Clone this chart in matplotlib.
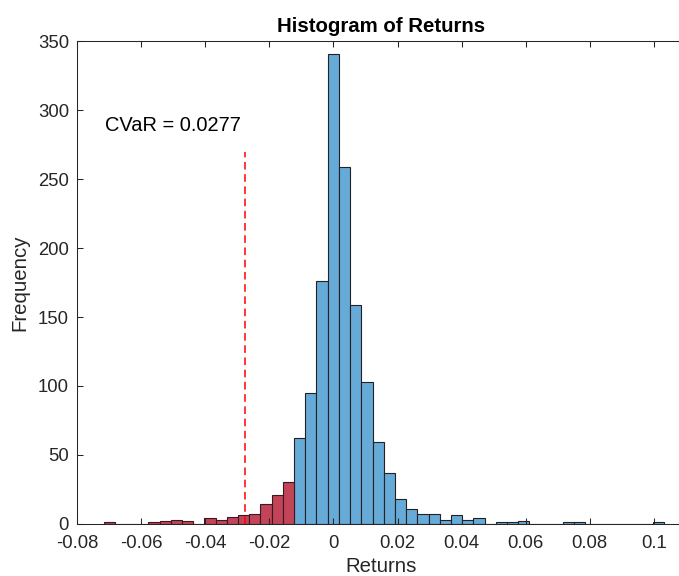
import numpy as np
import matplotlib
matplotlib.use("Agg")
import matplotlib.pyplot as plt

plt.rcParams['font.family'] = ['Liberation Sans', 'DejaVu Sans']
plt.rcParams['axes.unicode_minus'] = False

# histogram of returns: 50 bins starting at bin_start, width bin_width
bin_start = -0.0718
bin_width = 0.0035
counts = [1, 0, 0, 0, 1, 2, 3, 2, 0, 4,
          3, 5, 6, 7, 14, 21, 30, 62, 95, 176,
          341, 259, 159, 103, 59, 37, 18, 11, 7, 7,
          3, 6, 3, 4, 0, 1, 1, 2, 0, 0,
          0, 1, 1, 0, 0, 0, 0, 0, 0, 1]
n_tail = 17          # bins in the left tail (shown red)
cvar = 0.0277
cvar_line_top = 270

x_ticks = [-0.08, -0.06, -0.04, -0.02, 0, 0.02, 0.04, 0.06, 0.08, 0.1]
x_labels = ['-0.08', '-0.06', '-0.04', '-0.02', '0', '0.02', '0.04', '0.06', '0.08', '0.1']
y_ticks = [0, 50, 100, 150, 200, 250, 300, 350]

edges = bin_start + bin_width * np.arange(len(counts) + 1)
counts = np.array(counts)

fig = plt.figure(figsize=(6.79, 5.76), dpi=100)
ax = fig.add_axes([77.3 / 679, 52.3 / 576, 608.4 / 679, 482.3 / 576])

blue = '#66aad7'
red = '#c24459'
ax.bar(edges[n_tail:-1], counts[n_tail:], width=bin_width, align='edge',
       color=blue, edgecolor='#222222', linewidth=0.8)
ax.bar(edges[:n_tail], counts[:n_tail], width=bin_width, align='edge',
       color=red, edgecolor='#3a1a20', linewidth=0.8)

ax.plot([-cvar, -cvar], [0, cvar_line_top], color='#ff0000', linewidth=1.1,
        linestyle=(0, (5, 3)))
ax.text(-0.0713, 289, 'CVaR = %.4f' % cvar, fontsize=14.4, color='black',
        ha='left', va='center')

ax.set_xlim(-0.08, 0.11)
ax.set_ylim(0, 350)
ax.set_xticks(x_ticks)
ax.set_xticklabels(x_labels)
ax.set_yticks(y_ticks)

axcol = '#262626'
for s in ax.spines.values():
    s.set_color(axcol)
    s.set_linewidth(0.75)
ax.tick_params(direction='in', length=4.5, width=0.75, colors=axcol,
               labelsize=13.3, top=True, right=True)
ax.tick_params(axis='x', pad=8)
ax.tick_params(axis='y', pad=6)

ax.set_title('Histogram of Returns', fontsize=14.7, fontweight='bold', pad=7)
ax.set_xlabel('Returns', fontsize=14.7, color=axcol, labelpad=4)
ax.set_ylabel('Frequency', fontsize=14.7, color=axcol, labelpad=6)

fig.savefig('out.png', dpi=100)
